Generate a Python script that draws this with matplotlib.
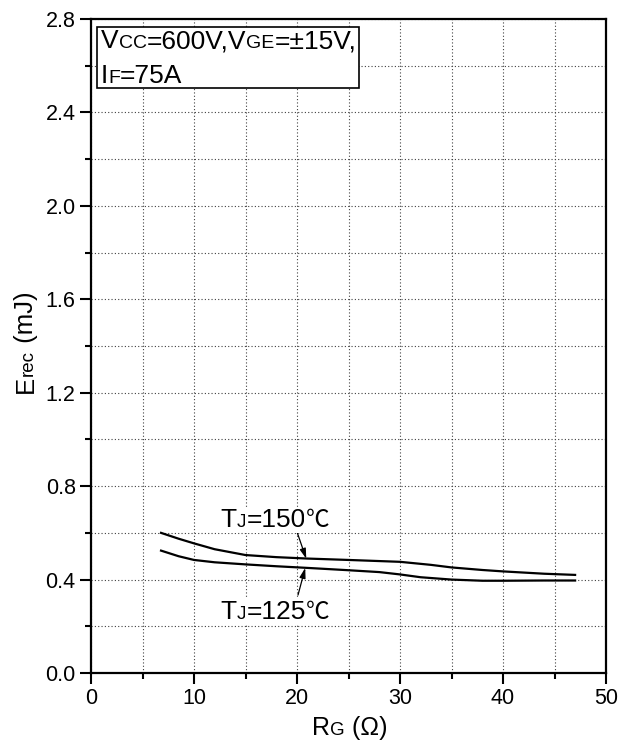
import matplotlib
matplotlib.use('Agg')
import matplotlib.pyplot as plt
import numpy as np
from matplotlib import transforms
from matplotlib.ticker import MultipleLocator

plt.rcParams['font.family'] = ['Liberation Sans', 'Noto Sans CJK SC', 'DejaVu Sans']

# Erec vs RG
rg_150 = [6.8, 8.5, 10.0, 12.0, 15.0, 18.0, 21.0, 25.0, 30.0, 33.0, 35.0, 38.0, 40.0, 44.0, 47.0]
erec_150 = [0.600, 0.575, 0.555, 0.530, 0.505, 0.496, 0.490, 0.484, 0.476, 0.463, 0.452, 0.441, 0.435, 0.425, 0.420]
rg_125 = [6.8, 8.5, 10.0, 12.0, 15.0, 18.0, 21.0, 25.0, 28.0, 30.0, 32.0, 35.0, 38.0, 40.0, 44.0, 47.0]
erec_125 = [0.524, 0.500, 0.484, 0.474, 0.465, 0.457, 0.450, 0.440, 0.432, 0.422, 0.410, 0.400, 0.395, 0.395, 0.396, 0.396]


def rich_text(fig, x, y, parts, transform, rotation=0, bg=False):
    """画大小混排的文字, parts = [(字符串, 字号), ...]"""
    renderer = fig.canvas.get_renderer()
    t = transform
    for s, size in parts:
        kw = {}
        if bg:
            kw['bbox'] = dict(facecolor='white', edgecolor='none', pad=1.0)
        txt = fig.text(x, y, s, transform=t, fontsize=size, rotation=rotation,
                       ha='left', va='baseline', rotation_mode='anchor', **kw)
        txt.draw(renderer)
        ex = txt.get_window_extent(renderer)
        if rotation == 90:
            t = transforms.offset_copy(txt.get_transform(), y=ex.height, units='dots', fig=fig)
        else:
            t = transforms.offset_copy(txt.get_transform(), x=ex.width, units='dots', fig=fig)


fig = plt.figure(figsize=(6.25, 7.45), dpi=100)
ax = fig.add_axes([91 / 625, 1 - 673 / 745, 515 / 625, 654 / 745])

ax.plot(rg_150, erec_150, color='black', lw=1.6, zorder=3)
ax.plot(rg_125, erec_125, color='black', lw=1.6, zorder=3)

ax.set_xlim(0, 50)
ax.set_ylim(0, 2.8)
ax.xaxis.set_major_locator(MultipleLocator(10))
ax.xaxis.set_minor_locator(MultipleLocator(5))
ax.yaxis.set_major_locator(MultipleLocator(0.4))
ax.yaxis.set_minor_locator(MultipleLocator(0.2))
ax.yaxis.set_major_formatter(matplotlib.ticker.FormatStrFormatter('%.1f'))
ax.tick_params(which='major', direction='out', length=8, width=1.5, labelsize=15.5, pad=3)
ax.tick_params(which='minor', direction='out', length=4, width=1.5)
for sp in ax.spines.values():
    sp.set_linewidth(1.6)
ax.grid(which='both', linestyle=(0, (1, 2)), color='0.25', lw=0.8)
ax.set_axisbelow(True)

# 参数框
ax.add_patch(plt.Rectangle((6 / 515, 1 - 69 / 654), 262 / 515, 61 / 654,
                           transform=ax.transAxes, facecolor='white',
                           edgecolor='black', lw=1.2, zorder=4))

pix = transforms.IdentityTransform()
big, small = 19, 14
rich_text(fig, 101, 745 - 48,
          [('V', big), ('CC', small), ('=600V,V', big), ('GE', small), ('=±15V,', big)], pix)
rich_text(fig, 101, 745 - 83, [('I', big), ('F', small), ('=75A', big)], pix)

# 温度标注
rich_text(fig, 12.6, 0.625, [('T', 19), ('J', 14), ('=150', 19), ('℃', 17)], ax.transData, bg=True)
rich_text(fig, 12.6, 0.232, [('T', 19), ('J', 14), ('=125', 19), ('℃', 17)], ax.transData, bg=True)
arrow = dict(arrowstyle='-|>,head_length=0.6,head_width=0.18', color='black', lw=0.9,
             shrinkA=0, shrinkB=0)
ax.annotate('', xy=(20.9, 0.489), xytext=(20.0, 0.604), arrowprops=arrow, zorder=5)
ax.annotate('', xy=(20.8, 0.450), xytext=(20.1, 0.334), arrowprops=arrow, zorder=5)

# 坐标轴标题
rich_text(fig, 312, 745 - 735, [('R', 18), ('G', 13.5), (' (Ω)', 18)], pix)
rich_text(fig, 33, 745 - 393, [('E', 18.5), ('rec', 13.5), (' (mJ)', 18.5)], pix, rotation=90)

fig.savefig('out.png', dpi=100)
